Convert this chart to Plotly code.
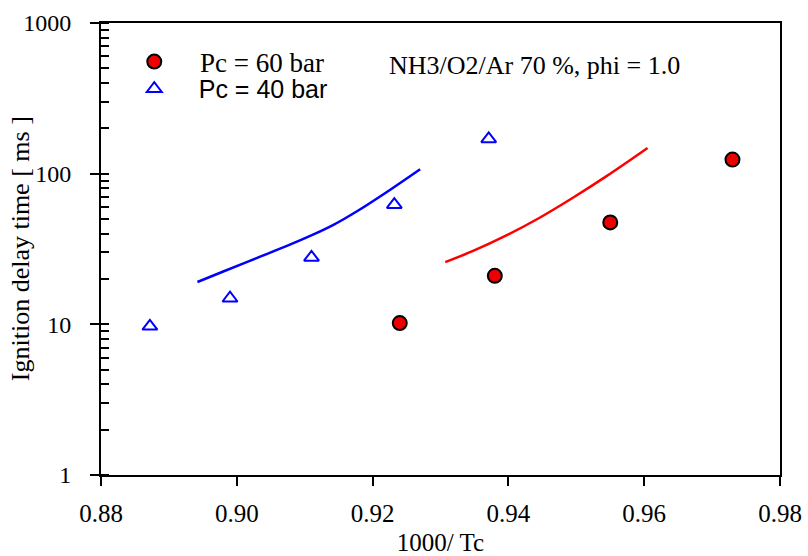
import plotly.graph_objects as go

# Experimental data
x60 = [0.924, 0.938, 0.955, 0.973]
y60 = [10.2, 21.0, 47.5, 124]
x40 = [0.8872, 0.899, 0.911, 0.9232, 0.9371]
y40 = [9.7, 14.9, 27.8, 62.3, 170]

# Model curves
xm40 = [0.8942, 0.8981, 0.9030, 0.9079, 0.9113, 0.9143, 0.9177, 0.9226, 0.9270]
ym40 = [19.1, 22.5, 27.6, 33.9, 39.5, 45.9, 56.3, 78.3, 107]
xm60 = [0.9307, 0.9348, 0.9397, 0.9446, 0.9495, 0.9544, 0.9605]
ym60 = [25.9, 30.7, 38.9, 51.0, 69.2, 95.9, 148]

xticks = [0.88, 0.90, 0.92, 0.94, 0.96, 0.98]
xticklabels = ["0.88", "0.90", "0.92", "0.94", "0.96", "0.98"]
yticks = [1, 10, 100, 1000]
yticklabels = ["1", "10", "100", "1000"]

SERIF = "Liberation Serif, Times New Roman, serif"
SANS = "Liberation Sans, Arial, sans-serif"
PAD = "\u2002\u00a0\u2009"

fig = go.Figure()
fig.add_trace(go.Scatter(x=xm40, y=ym40, mode="lines", line=dict(color="#0000ff", width=2.5),
                         showlegend=False, line_shape="spline"))
fig.add_trace(go.Scatter(x=xm60, y=ym60, mode="lines", line=dict(color="#ff0000", width=2.5),
                         showlegend=False, line_shape="spline"))
fig.add_trace(go.Scatter(x=x60, y=y60, mode="markers", legend="legend",
                         name=PAD + '<span style="font-family:Liberation Serif, Times New Roman, serif">Pc = 60 bar</span>',
                         marker=dict(symbol="circle", size=14, color="#ee0000",
                                     line=dict(color="black", width=2))))
fig.add_trace(go.Scatter(x=x40, y=y40, mode="markers", legend="legend2",
                         name=PAD + '<span style="font-family:Liberation Sans, Arial, sans-serif">Pc = 40 bar</span>',
                         marker=dict(symbol="triangle-up-open", size=13, color="#0000ff",
                                     line=dict(color="#0000ff", width=2))))

fig.add_annotation(text="NH3/O2/Ar 70 %, phi = 1.0", xref="paper", yref="paper",
                   x=0.421, y=0.905, xanchor="left", yanchor="middle", showarrow=False,
                   font=dict(family=SERIF, size=26, color="black"))
fig.add_annotation(text="Ignition delay time [ ms ]", xref="paper", yref="paper",
                   x=-0.119, y=0.5, xanchor="center", yanchor="middle", textangle=-90,
                   showarrow=False, font=dict(family=SERIF, size=26, color="black"))

fig.update_layout(
    width=808, height=556,
    margin=dict(l=101, r=28, t=23, b=81),
    paper_bgcolor="white", plot_bgcolor="white",
    font=dict(family=SERIF, size=25, color="black"),
    legend=dict(x=0.049, y=0.9137, xanchor="left", yanchor="middle", bgcolor="rgba(0,0,0,0)",
                font=dict(family=SERIF, size=27)),
    legend2=dict(x=0.049, y=0.854, xanchor="left", yanchor="middle", bgcolor="rgba(0,0,0,0)",
                 font=dict(family=SANS, size=25)),
    xaxis=dict(range=[0.88, 0.98], tickvals=xticks, ticktext=xticklabels, automargin=False,
               showgrid=False, zeroline=False, showline=True, linecolor="black", linewidth=2,
               mirror=True, ticks="outside", ticklen=9, tickwidth=2, tickcolor="black",
               ticklabelstandoff=6, tickfont=dict(size=25),
               title=dict(text="1000/ Tc", font=dict(family=SERIF, size=25))),
    yaxis=dict(type="log", range=[0, 3], tickvals=yticks, ticktext=yticklabels, automargin=False,
               showgrid=False, zeroline=False, showline=True, linecolor="black", linewidth=2,
               mirror=True, ticks="outside", ticklen=9, tickwidth=2, tickcolor="black",
               ticklabelstandoff=14, tickfont=dict(size=24),
               minor=dict(ticks="inside", ticklen=8, tickwidth=1.5, tickcolor="black",
                          dtick="D1", showgrid=False)),
)

fig.write_html("out.html")
